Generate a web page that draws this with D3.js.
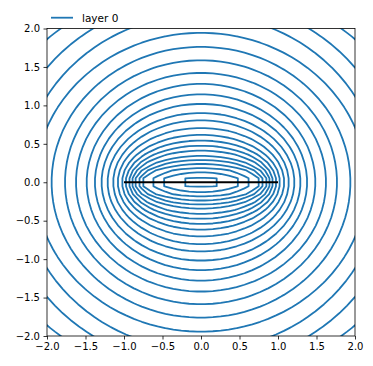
<!DOCTYPE html>
<html><head><meta charset="utf-8">
<script src="https://cdn.jsdelivr.net/npm/d3@7"></script>
<style>
body{margin:0;background:#fff;}
text{font-family:"DejaVu Sans",sans-serif;}
</style></head>
<body>
<svg id="chart" width="373" height="366"></svg>
<script>
// ---- data ----
const seriesName = ["layer 0"];
// contour semi-axes: half-width on the x axis (aObs) and half-height on the y axis (b)
const contourA = [2.90, 2.56, 2.33, 2.15, 1.94, 1.766, 1.623, 1.484, 1.377, 1.29, 1.212, 1.139, 1.078, 1.022, 0.974, 0.93, 0.89, 0.85, 0.80, 0.75, 0.62, 0.48, 0.21];
const contourB = [2.57, 2.39, 2.18, 1.944, 1.762, 1.587, 1.423, 1.28, 1.144, 1.02, 0.902, 0.806, 0.707, 0.619, 0.545, 0.476, 0.414, 0.345, 0.293, 0.241, 0.189, 0.137, 0.062];
const segmentX = [-1, 1];
const segmentY = [0, 0];
const xTicks = [-2.0, -1.5, -1.0, -0.5, 0.0, 0.5, 1.0, 1.5, 2.0];
const yTicks = [-2.0, -1.5, -1.0, -0.5, 0.0, 0.5, 1.0, 1.5, 2.0];
const xDomain = [-2, 2], yDomain = [-2, 2];

// ---- layout ----
const svg = d3.select("#chart");
const L = 47, R = 355, T = 28.5, B = 336;
const x = d3.scaleLinear().domain(xDomain).range([L, R]);
const y = d3.scaleLinear().domain(yDomain).range([B, T]);
const blue = "#1f77b4";

svg.append("defs").append("clipPath").attr("id", "clip")
  .append("rect").attr("x", L).attr("y", T).attr("width", R - L).attr("height", B - T);

// sampling grid (contouring is done on a coarse grid, like the original)
const nCell = 39, h = (xDomain[1] - xDomain[0]) / nCell, pad = 8;
const n = nCell + 1 + 2 * pad;
const g0 = xDomain[0] - pad * h;
const toData = c => g0 + (c - 0.5) * h;
const y0 = h / 2; // grid rows nearest the x axis

const plot = svg.append("g").attr("clip-path", "url(#clip)");
const line = d3.line().x(p => x(toData(p[0]))).y(p => y(toData(p[1]))).curve(d3.curveLinearClosed);

contourA.forEach((aObs, k) => {
  const b = contourB[k];
  const a = b > y0 * 1.01 ? aObs / Math.sqrt(1 - (y0 / b) ** 2) : aObs;
  const vals = new Float64Array(n * n);
  for (let j = 0; j < n; j++) {
    const yy = g0 + j * h;
    for (let i = 0; i < n; i++) {
      const xx = g0 + i * h;
      vals[j * n + i] = -((xx / a) ** 2 + (yy / b) ** 2);
    }
  }
  const c = d3.contours().size([n, n]).thresholds([-1])(vals)[0];
  c.coordinates.forEach(poly => poly.forEach(ring => {
    plot.append("path").attr("d", line(ring.slice(0, -1)))
      .attr("fill", "none").attr("stroke", blue).attr("stroke-width", 1.8)
      .attr("stroke-linejoin", "round");
  }));
});

plot.append("line")
  .attr("x1", x(segmentX[0])).attr("y1", y(segmentY[0]))
  .attr("x2", x(segmentX[1])).attr("y2", y(segmentY[1]))
  .attr("stroke", "#000").attr("stroke-width", 1.8);

// axes
const fmt = d3.format(".1f");
const xa = svg.append("g").attr("transform", `translate(0,${B})`)
  .call(d3.axisBottom(x).tickValues(xTicks).tickSize(3.5).tickPadding(3.5).tickFormat(fmt));
const ya = svg.append("g").attr("transform", `translate(${L},0)`)
  .call(d3.axisLeft(y).tickValues(yTicks).tickSize(3.5).tickPadding(3.5).tickFormat(fmt));
[xa, ya].forEach(a => {
  a.select(".domain").remove();
  a.selectAll("text").attr("font-size", 10).attr("font-family", "DejaVu Sans").attr("fill", "#000");
  a.selectAll("line").attr("stroke", "#000").attr("stroke-width", 0.8);
});

svg.append("rect").attr("x", L).attr("y", T).attr("width", R - L).attr("height", B - T)
  .attr("fill", "none").attr("stroke", "#000").attr("stroke-width", 0.8);

// legend
const lg = svg.append("g");
lg.append("line").attr("x1", 51).attr("x2", 73).attr("y1", 17.7).attr("y2", 17.7)
  .attr("stroke", blue).attr("stroke-width", 1.8);
lg.append("text").attr("x", 82).attr("y", 21.5).attr("font-size", 10.5).text(seriesName[0]);
</script>
</body></html>
